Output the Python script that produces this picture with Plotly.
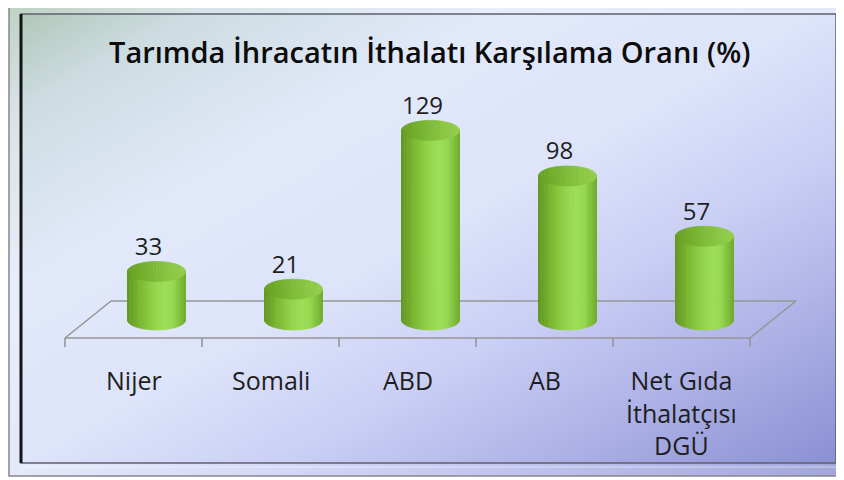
import base64, struct, zlib
import numpy as np
import plotly.graph_objects as go

# ---------------- data ----------------
categories = ["Nijer", "Somali", "ABD", "AB", "Net Gıda<br>İthalatçısı<br>DGÜ"]
values = [33, 21, 129, 98, 57]
value_labels = [str(v) for v in values]
title_text = "Tarımda İhracatın İthalatı Karşılama Oranı (%)"

# ---------------- geometry / style ----------------
OFF = 8                      # page body margin
W, H = 844 - OFF, 480 - OFF  # figure size
PX_PER_CAT = 137.0
PX_PER_UNIT = 1.47
X_ORIGIN_PX = 133.5 - OFF    # figure pixel of front-centre of category 0
Y_ORIGIN_PX = 320.0 - OFF    # figure pixel of value 0 (cylinder base centre)


def dx(p):
    return p / PX_PER_CAT


def dy(p):
    return p / PX_PER_UNIT


xrange = [-X_ORIGIN_PX / PX_PER_CAT, (W - X_ORIGIN_PX) / PX_PER_CAT]
yrange = [(Y_ORIGIN_PX - H) / PX_PER_UNIT, Y_ORIGIN_PX / PX_PER_UNIT]
n = len(categories)


def px(x):  # page pixel -> paper
    return (x - OFF) / W


def py(y):
    return 1 - (y - OFF) / H


# ---------------- background gradient image ----------------
def make_png(arr):
    h, w, _ = arr.shape
    raw = b"".join(b"\x00" + arr[r].tobytes() for r in range(h))

    def chunk(tag, data):
        return (struct.pack(">I", len(data)) + tag + data +
                struct.pack(">I", zlib.crc32(tag + data) & 0xffffffff))

    ihdr = struct.pack(">IIBBBBB", w, h, 8, 2, 0, 0, 0)
    png = (b"\x89PNG\r\n\x1a\n" + chunk(b"IHDR", ihdr) +
           chunk(b"IDAT", zlib.compress(raw, 9)) + chunk(b"IEND", b""))
    return "data:image/png;base64," + base64.b64encode(png).decode()


gw, gh = 211, 120
u = np.linspace(0, 1, gw)[None, :]
v = np.linspace(0, 1, gh)[:, None]
t = (u * 0.5 + v * 0.5)
stops_t = [0.0, 0.12, 0.3, 0.5, 0.65, 0.8, 1.0]
stops_c = np.array([
    [174, 197, 180],
    [206, 221, 226],
    [226, 234, 250],
    [222, 228, 250],
    [203, 208, 245],
    [176, 180, 232],
    [136, 142, 210],
])
img = np.zeros((gh, gw, 3))
for ch in range(3):
    img[:, :, ch] = np.interp(t, stops_t, stops_c[:, ch])
img = np.clip(img, 0, 255).astype(np.uint8)
bg_uri = make_png(img)

fig = go.Figure()

# ---------------- floor ----------------
front_v = -dy(18)
back_v = dy(19)
depth_dx = dx(46)
xl, xr = -0.5, n - 0.5
fig.add_trace(go.Scatter(
    x=[xl + depth_dx, xl, xr, xr + depth_dx, xl + depth_dx],
    y=[back_v, front_v, front_v, back_v, back_v],
    mode="lines", line=dict(color="rgb(150,150,150)", width=1.6),
    hoverinfo="skip", showlegend=False))

tx, ty = [], []
for j in range(n + 1):
    tx += [xl + j, xl + j, None]
    ty += [front_v, front_v - dy(9), None]
fig.add_trace(go.Scatter(x=tx, y=ty, mode="lines",
                         line=dict(color="rgb(150,150,150)", width=1.6),
                         hoverinfo="skip", showlegend=False))

# ---------------- cylinders ----------------
rx = dx(29)
ry = dy(10)
cdx = dx(23)
centers = [i + cdx for i in range(n)]

shade_s = [-1.0, -0.6, -0.1, 0.3, 0.6, 1.0]
shade_c = np.array([
    [96, 150, 32],
    [122, 182, 48],
    [146, 210, 72],
    [158, 224, 88],
    [150, 216, 80],
    [112, 172, 42],
])
cap_s = [-1.0, -0.3, 0.4, 1.0]
cap_c = np.array([
    [104, 160, 36],
    [120, 180, 50],
    [138, 198, 66],
    [150, 208, 80],
])

N = 28
th = np.linspace(np.pi, 0, N + 1)
# body strips
for k in range(N):
    sm = np.cos((th[k] + th[k + 1]) / 2)
    col = [int(np.interp(sm, shade_s, shade_c[:, c])) for c in range(3)]
    colstr = f"rgb({col[0]},{col[1]},{col[2]})"
    xs, ys = [], []
    for cx, val in zip(centers, values):
        xa = cx + rx * np.cos(th[k])
        xb = cx + rx * np.cos(th[k + 1])
        tt = np.linspace(th[k + 1], th[k], 4)
        xs += [xa, xb] + list(cx + rx * np.cos(tt)) + [xa, None]
        ys += [val, val] + list(-ry * np.sin(tt)) + [val, None]
    fig.add_trace(go.Scatter(x=xs, y=ys, mode="lines", fill="toself",
                             fillcolor=colstr,
                             line=dict(color=colstr, width=0.6),
                             hoverinfo="skip", showlegend=False))

# top cap strips
for k in range(N):
    sm = np.cos((th[k] + th[k + 1]) / 2)
    col = [int(np.interp(sm, cap_s, cap_c[:, c])) for c in range(3)]
    colstr = f"rgb({col[0]},{col[1]},{col[2]})"
    xs, ys = [], []
    for cx, val in zip(centers, values):
        tt = np.linspace(th[k], th[k + 1], 4)
        up_x = list(cx + rx * np.cos(tt))
        up_y = list(val + ry * np.sin(tt))
        lo_x = list(cx + rx * np.cos(tt[::-1]))
        lo_y = list(val - ry * np.sin(tt[::-1]))
        xs += up_x + lo_x + [up_x[0], None]
        ys += up_y + lo_y + [up_y[0], None]
    fig.add_trace(go.Scatter(x=xs, y=ys, mode="lines", fill="toself",
                             fillcolor=colstr,
                             line=dict(color=colstr, width=0.6),
                             hoverinfo="skip", showlegend=False))

# value labels
fig.add_trace(go.Scatter(
    x=[c - dx(8) for c in centers],
    y=[val + dy(22.5) for val in values],
    mode="text", text=value_labels, textposition="middle center",
    textfont=dict(family="Open Sans", size=24, color="rgb(30,30,30)"),
    hoverinfo="skip", showlegend=False))

# category labels
annotations = []
for i, cat in enumerate(categories):
    annotations.append(dict(
        x=i, y=-dy(361 - 320), xref="x", yref="y",
        text=cat, showarrow=False, xanchor="center", yanchor="top",
        align="center",
        font=dict(family="Open Sans", size=25, color="rgb(30,30,30)")))

annotations.append(dict(
    x=px(429), y=py(52), xref="paper", yref="paper", text=title_text,
    showarrow=False, xanchor="center", yanchor="middle",
    font=dict(family="Open Sans", size=29, color="rgb(12,12,12)", weight=600)))

# ---------------- frame ----------------
ox0, oy0, ox1, oy1 = 9, 2, 843, 476
ix0, iy0, ix1, iy1 = 21, 14, 836, 463
band_path = (f"M {px(ox0)} {py(oy0)} L {px(ox1)} {py(oy0)} L {px(ox1)} {py(oy1)} "
             f"L {px(ox0)} {py(oy1)} Z "
             f"M {px(ix0)} {py(iy0)} L {px(ix0)} {py(iy1)} L {px(ix1)} {py(iy1)} "
             f"L {px(ix1)} {py(iy0)} Z")
shapes = [
    dict(type="path", xref="paper", yref="paper", path=band_path,
         fillcolor="rgba(255,255,255,0.22)", line=dict(width=0), layer="above"),
    dict(type="rect", xref="paper", yref="paper",
         x0=px(ox0), y0=py(oy0), x1=px(ox1), y1=py(oy1),
         line=dict(color="rgb(135,135,140)", width=1.5), layer="above"),
    dict(type="rect", xref="paper", yref="paper",
         x0=px(ix0), y0=py(iy0), x1=px(ix1), y1=py(iy1),
         line=dict(color="rgb(95,95,110)", width=1.5), layer="above"),
    dict(type="line", xref="paper", yref="paper",
         x0=px(ix0), y0=py(iy0), x1=px(ix0), y1=py(iy1),
         line=dict(color="rgb(20,20,20)", width=3), layer="above"),
    dict(type="line", xref="paper", yref="paper",
         x0=px(ix0), y0=py(iy1 + 4), x1=px(ix1 + 3), y1=py(iy1 + 4),
         line=dict(color="rgba(255,255,255,0.5)", width=1), layer="above"),
]

fig.update_layout(
    width=W, height=H, autosize=False,
    margin=dict(l=0, r=0, t=0, b=0),
    paper_bgcolor="white", plot_bgcolor="rgba(0,0,0,0)",
    xaxis=dict(visible=False, range=xrange, fixedrange=True),
    yaxis=dict(visible=False, range=yrange, fixedrange=True),
    images=[dict(source=bg_uri, xref="paper", yref="paper",
                 x=px(ox0), y=py(oy0), sizex=px(ox1) - px(ox0),
                 sizey=py(oy0) - py(oy1), xanchor="left", yanchor="top",
                 sizing="stretch", layer="below")],
    shapes=shapes,
    annotations=annotations,
    showlegend=False,
)

fig.write_html("out.html")
